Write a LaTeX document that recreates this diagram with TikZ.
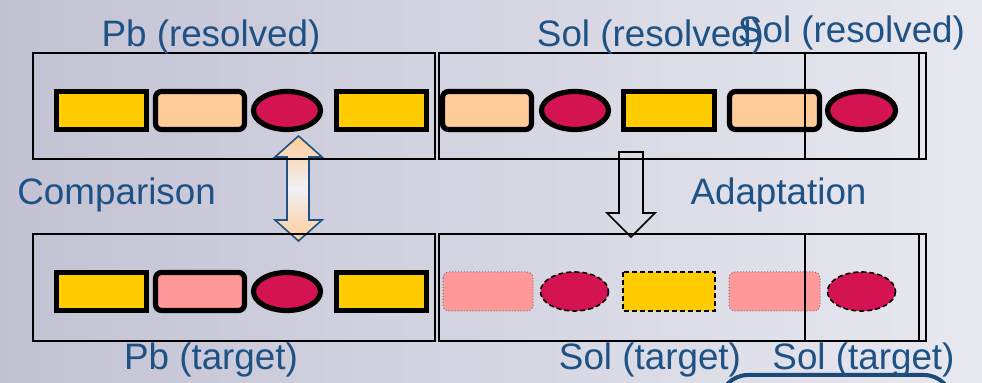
\documentclass[tikz,border=0pt]{standalone}
\usepackage{fontspec}
\setmainfont{Liberation Sans}
\usepackage{xcolor}
\definecolor{capblue}{RGB}{31,82,132}
\definecolor{goldbox}{RGB}{255,204,0}
\definecolor{peachbox}{RGB}{255,204,153}
\definecolor{pinkbox}{RGB}{255,153,153}
\definecolor{crimson}{RGB}{212,20,82}
\tikzset{
  caption/.style={anchor=base,text=capblue,inner sep=0,font=\fontsize{18.4}{20}\selectfont},
  goldrect/.style={fill=goldbox,draw=black,line width=2.6pt},
  softrect/.style={draw=black,line width=2.6pt,rounded corners=3pt},
  blob/.style={fill=crimson,draw=black,line width=2.6pt},
  guessrect/.style={fill=pinkbox,draw=black!55,densely dotted,line width=0.5pt,rounded corners=3pt},
  guessgold/.style={fill=goldbox,draw=black,dash pattern=on 2.5pt off 1.5pt,line width=0.8pt},
  guessblob/.style={fill=crimson,draw=black,dash pattern=on 2.5pt off 1.5pt,line width=0.8pt},
  frame/.style={draw=black,line width=0.8pt}
}
\begin{document}
\begin{tikzpicture}[x=0.5pt,y=-0.5pt]
\useasboundingbox (0,0) rectangle (982,383);
\shade[left color={rgb,255:red,194;green,194;blue,212},right color={rgb,255:red,232;green,232;blue,240}] (0,0) rectangle (982,383);
% resolved case
\draw[goldrect] (56.5,91.5) rectangle (146.5,129.5);
\draw[softrect,fill=peachbox] (155.5,91.5) rectangle (244.5,129.5);
\draw[blob] (287,110.5) ellipse (33.5 and 19);
\draw[goldrect] (336.5,91.5) rectangle (426.5,129.5);
\draw[softrect,fill=peachbox] (442.5,91.5) rectangle (531.5,129.5);
\draw[blob] (575,110.5) ellipse (33.5 and 19);
\draw[goldrect] (623.5,91.5) rectangle (714.5,129.5);
\draw[softrect,fill=peachbox] (729.5,91.5) rectangle (819.5,129.5);
\draw[blob] (861.5,110.5) ellipse (34 and 19);
% target case
\draw[goldrect] (56.5,272.5) rectangle (146.5,310.5);
\draw[softrect,fill=pinkbox] (155.5,272.5) rectangle (244.5,310.5);
\draw[blob] (287,291.5) ellipse (33.5 and 19);
\draw[goldrect] (336.5,272.5) rectangle (426.5,310.5);
\draw[guessrect] (443,272) rectangle (533,311);
\draw[guessblob] (574.5,291.5) ellipse (34 and 19.5);
\draw[guessgold] (623,272) rectangle (715,311);
\draw[guessrect] (729,272) rectangle (820,311);
\draw[guessblob] (861.5,291.5) ellipse (34 and 19.5);
% block arrows
\draw[draw=capblue,line width=0.8pt,top color=peachbox,bottom color=peachbox,middle color={rgb,255:red,240;green,240;blue,246}]
  (298.5,136) -- (322,157) -- (309,157) -- (309,220) -- (322,220) -- (298.5,241)
  -- (275,220) -- (287,220) -- (287,157) -- (275,157) -- cycle;
\draw[draw=black,line width=0.8pt]
  (619,152) -- (643,152) -- (643,213) -- (655,213) -- (631,237) -- (607,213) -- (619,213) -- cycle;
% frames
\draw[frame] (33,53) rectangle (435,159);
\draw[frame] (439,53) rectangle (926,159);
\draw[frame] (805,53) rectangle (919,159);
\draw[frame] (33,234) rectangle (435,341);
\draw[frame] (439,234) rectangle (926,341);
\draw[frame] (805,234) rectangle (919,341);
\draw[draw={rgb,255:red,28;green,74;blue,118},line width=2pt,rounded corners=14pt] (720,375) rectangle (952,420);
% captions
\node[caption] (pbres) at (211,47) {Pb (resolved)};
\node[caption] (solres) at (650.5,47) {Sol (resolved)};
\node[caption] (solresb) at (851.5,43) {Sol (resolved)};
\node[caption,anchor=base west] (cmp) at (17,205) {Comparison};
\node[caption] (adapt) at (778.5,205) {Adaptation};
\node[caption] (pbtgt) at (211,370) {Pb (target)};
\node[caption] (soltgt) at (650,370) {Sol (target)};
\node[caption] (soltgtb) at (863.5,370) {Sol (target)};
\end{tikzpicture}
\end{document}
